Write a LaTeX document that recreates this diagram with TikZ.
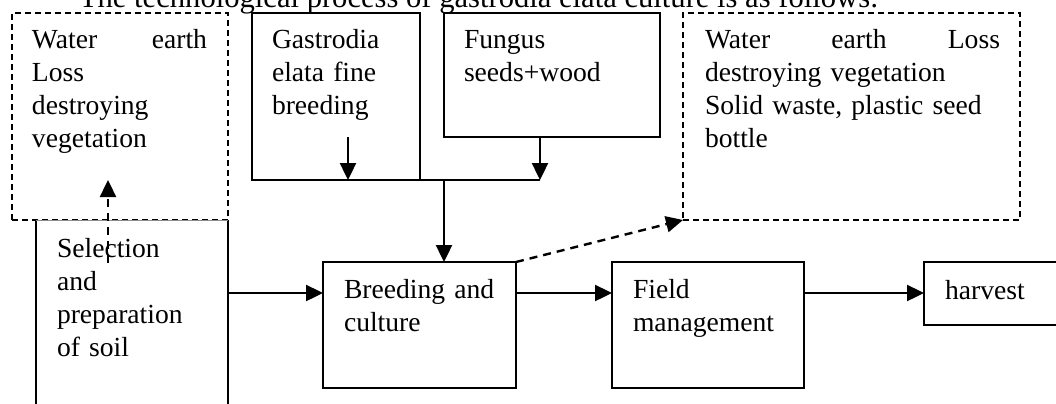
\documentclass[tikz,border=0pt]{standalone}
\usepackage{fontspec}
\setmainfont{Liberation Serif}
\usetikzlibrary{arrows.meta}
\begin{document}
\begin{tikzpicture}[x=0.5pt,y=-0.5pt,
  every node/.style={inner sep=0pt, outer sep=0pt},
  box/.style={draw, line width=1.2pt, anchor=north west},
  dbox/.style={draw, line width=1.2pt, dash pattern=on 3pt off 2pt, anchor=north west},
  txt/.style={anchor=base west, align=left, font=\fontsize{13.8pt}{16.5pt}\selectfont},
  flow/.style={line width=1.2pt, -{Triangle[length=8.5pt,width=8pt]}},
  dflow/.style={flow, dash pattern=on 4pt off 3pt},
  link/.style={line width=1.2pt}]
\useasboundingbox (0,0) rectangle (1056,403);
\clip (0,0) rectangle (1056,403);

% title line
\node[txt, font=\fontsize{15.3pt}{18pt}\selectfont] (title) at (79,7)
  {The technological process of gastrodia elata culture is as follows:};

% upper row of boxes
\node[dbox, minimum width=108pt, minimum height=103.5pt] (L) at (12,13) {};
\node[box, minimum width=84pt, minimum height=83.5pt] (G) at (252,13) {};
\node[box, minimum width=108pt, minimum height=62pt] (F) at (444,13) {};
\node[dbox, minimum width=168.5pt, minimum height=103.5pt] (R) at (683,13) {};

\node[txt, text width=90pt] (Lt) at (32,48)
  {\hbox to 87.5pt{Water\hfill earth}\\Loss\\destroying\\vegetation};
\node[txt, text width=70pt] (Gt) at (272,48) {Gastrodia\\elata fine\\breeding};
\node[txt, text width=90pt] (Ft) at (464,48) {Fungus\\seeds+wood};
\node[txt, text width=150pt] (Rt) at (705,48)
  {\hbox to 147.5pt{Water\hfill earth\hfill Loss}\\destroying vegetation\\Solid waste, plastic seed\\bottle};

% lower row of boxes
\node[minimum width=96pt, minimum height=110pt, anchor=north west] (S) at (36,220) {};
\draw[line width=1.2pt] (S.south west) -- (S.north west);
\draw[line width=1.2pt] (S.south east) -- (S.north east);
\draw[line width=0.4pt, black!45] (S.north west) -- (S.north east);
\node[txt, text width=80pt] (St) at (57,257) {Selection\\and\\preparation\\of soil};

\node[box, minimum width=96.5pt, minimum height=63pt] (B) at (323,262) {};
\node[txt, text width=90pt] (Bt) at (344,298) {Breeding and\\culture};
\node[box, minimum width=96pt, minimum height=63pt] (M) at (612,262) {};
\node[txt, text width=90pt] (Mt) at (633,298) {Field\\management};
\node[box, minimum width=80pt, minimum height=31.5pt] (H) at (924,262) {};
\node[txt] (Ht) at (945,299) {harvest};

% helper coordinates
\coordinate (row) at (0,293);
\coordinate (gx) at (348,0);
\coordinate (fx) at (540,0);
\coordinate (mx) at (444,0);
\coordinate (gstart) at (348,137);
\coordinate (ustart) at (108,263);
\coordinate (uend) at (108,180);

% connectors
\draw[flow] (gstart) -- (gx |- G.south);
\draw[flow] (fx |- F.south) -- (fx |- G.south);
\draw[link] (gx |- G.south) -- (fx |- G.south);
\draw[flow] (mx |- G.south) -- (mx |- B.north);
\draw[flow] (S.east |- row) -- (B.west |- row);
\draw[flow] (B.east |- row) -- (M.west |- row);
\draw[flow] (M.east |- row) -- (H.west |- row);
\draw[dflow] (B.north east) -- (R.south west);
\draw[dflow] (ustart) -- (uend);
\end{tikzpicture}
\end{document}
